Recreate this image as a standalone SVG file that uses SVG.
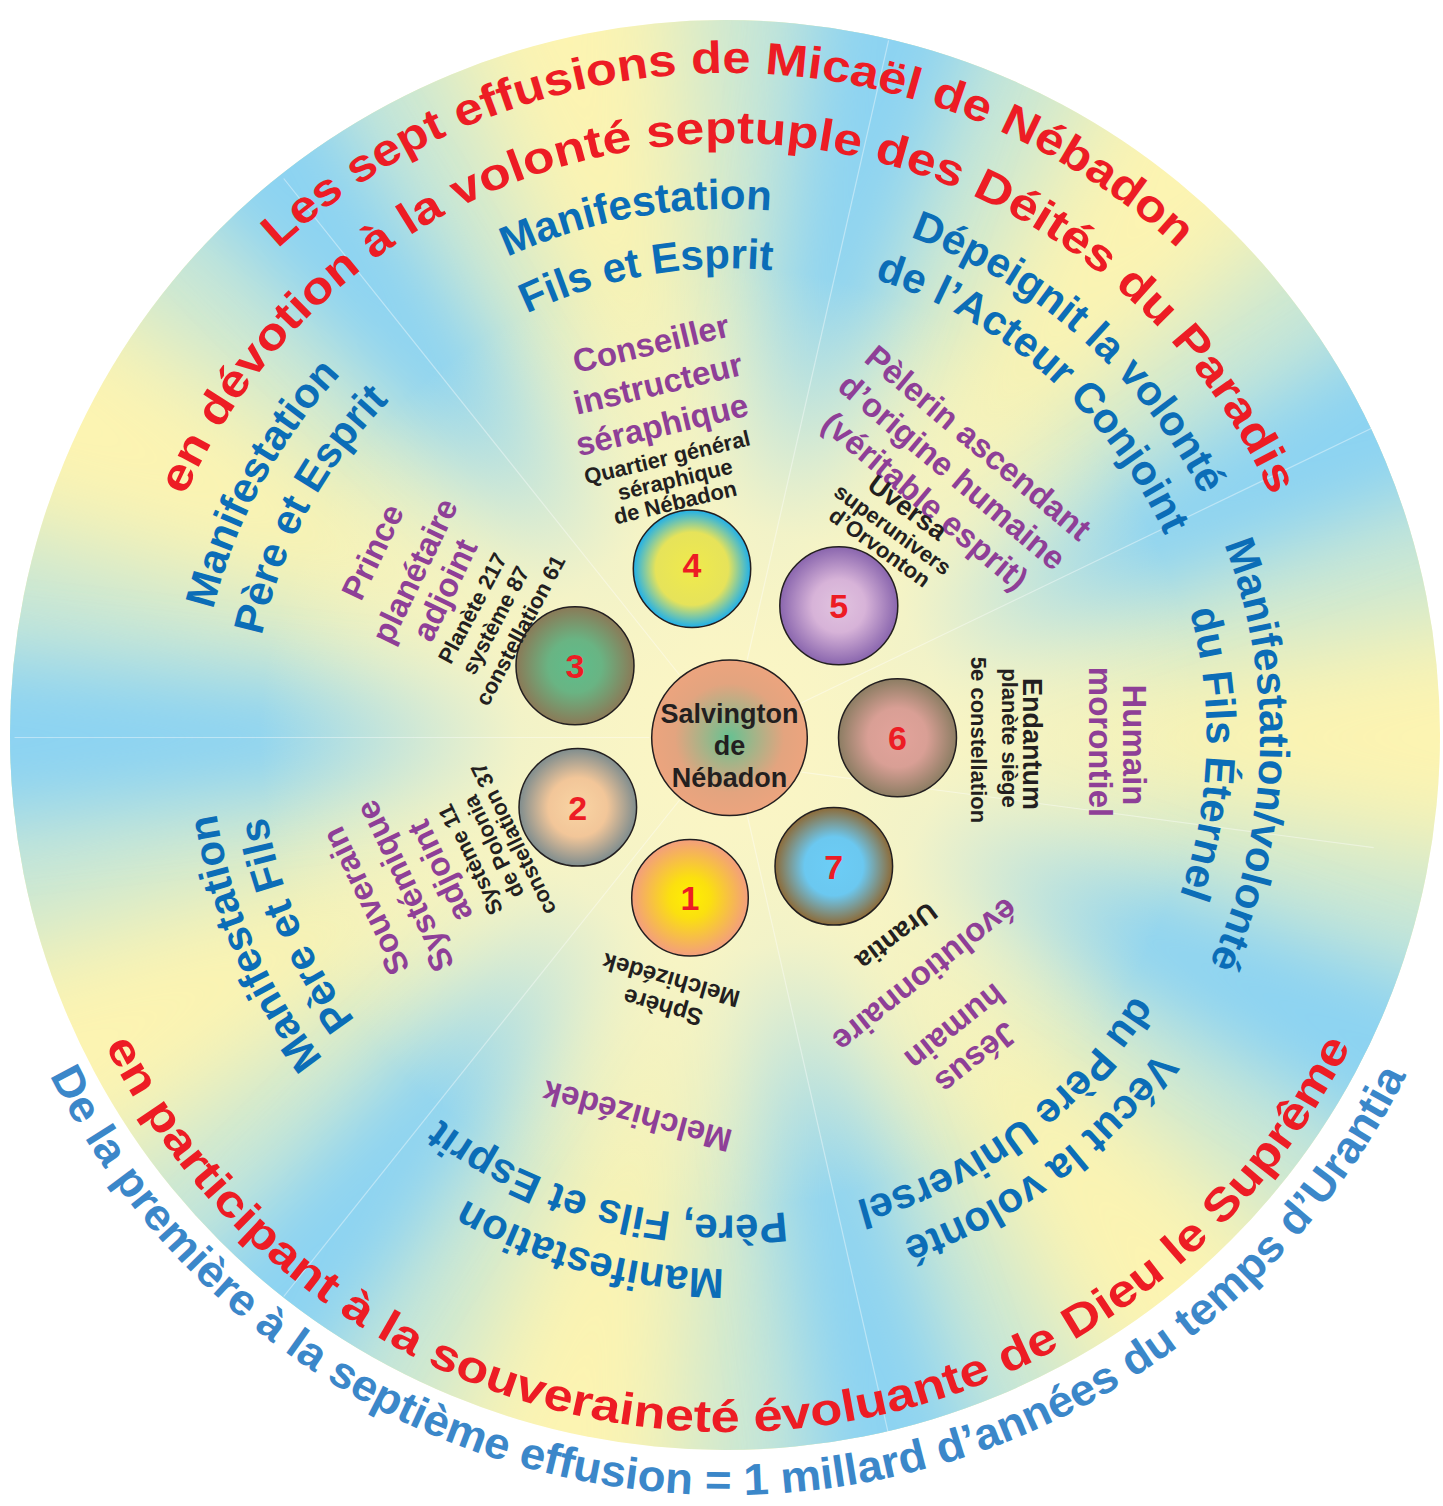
<svg xmlns="http://www.w3.org/2000/svg" width="1443" height="1506" viewBox="0 0 1443 1506">
<style>
text{font-family:"Liberation Sans",Arial,Helvetica,sans-serif;font-weight:bold;text-anchor:middle}
.r{font-size:45px;fill:#ed1c24}
.o{font-size:44px;fill:#3b87c9}
.b{font-size:42px;fill:#0b6db7}
.p{font-size:33px;fill:#8e3f97}
.k{font-size:22px;fill:#231f20}
.kb{font-size:27px;fill:#231f20}
.n{font-size:34px;fill:#ed1c24}
.s{font-size:27px;fill:#231f20}
.bowl{stroke:#231f20;stroke-width:1.5}
.sep{stroke:#ffffff;stroke-width:1.2;opacity:0.4;fill:none}
</style>
<defs>
<clipPath id="disk"><circle cx="725" cy="735" r="715"/></clipPath>
<filter id="blurA" filterUnits="userSpaceOnUse" x="-400" y="-400" width="2300" height="2300"><feGaussianBlur stdDeviation="55"/></filter>
<filter id="blurB" filterUnits="userSpaceOnUse" x="-400" y="-400" width="2300" height="2300"><feGaussianBlur stdDeviation="35"/></filter>
<radialGradient id="cream"><stop offset="0" stop-color="#fdf6c4" stop-opacity="1"/><stop offset="0.45" stop-color="#fdf6c4" stop-opacity="0.85"/><stop offset="1" stop-color="#fdf6c4" stop-opacity="0"/></radialGradient>
<radialGradient id="g1"><stop offset="0" stop-color="#fff000"/><stop offset="0.35" stop-color="#fbe00f"/><stop offset="1" stop-color="#f39e7d"/></radialGradient>
<radialGradient id="g2"><stop offset="0" stop-color="#f9d4a3"/><stop offset="0.5" stop-color="#f2c699"/><stop offset="1" stop-color="#7f8d8e"/></radialGradient>
<radialGradient id="g3"><stop offset="0" stop-color="#5dbe8c"/><stop offset="0.45" stop-color="#69b483"/><stop offset="1" stop-color="#8a7a57"/></radialGradient>
<radialGradient id="g4"><stop offset="0" stop-color="#f0ea4c"/><stop offset="0.62" stop-color="#e6e35a"/><stop offset="1" stop-color="#1fb0ea"/></radialGradient>
<radialGradient id="g5"><stop offset="0" stop-color="#e1c3df"/><stop offset="0.45" stop-color="#d7b3d8"/><stop offset="1" stop-color="#8a66ae"/></radialGradient>
<radialGradient id="g6"><stop offset="0" stop-color="#e3a39b"/><stop offset="0.5" stop-color="#d99f95"/><stop offset="1" stop-color="#8c7d63"/></radialGradient>
<radialGradient id="g7"><stop offset="0" stop-color="#6ccdf6"/><stop offset="0.5" stop-color="#6bc8f0"/><stop offset="1" stop-color="#8d6b38"/></radialGradient>
<radialGradient id="gs"><stop offset="0" stop-color="#66c192"/><stop offset="0.3" stop-color="#9fb589"/><stop offset="0.7" stop-color="#e3a47f"/><stop offset="1" stop-color="#eca47e"/></radialGradient>
<path id="topA" d="M 64 737 A 664 664 0 0 1 1392 737"/>
<path id="topB" d="M 134 737 A 594 594 0 0 1 1322 737"/>
<path id="botA" d="M 33 737 A 695 695 0 0 0 1423 737"/>
<path id="botB" d="M -30 737 A 758 758 0 0 0 1486 737"/>
<path id="p4a" d="M 204.1 829.4 A 532 532 0 0 1 1251.9 644.6"/>
<path id="p4b" d="M 262.2 819.1 A 473 473 0 0 1 1193.8 654.9"/>
<path id="p5a" d="M 329.5 384.5 A 532 532 0 0 1 1126.5 1089.5"/>
<path id="p5b" d="M 367.7 418.3 A 481 481 0 0 1 1088.3 1055.7"/>
<path id="p6a" d="M 746.6 205.3 A 532 532 0 0 1 709.4 1268.7"/>
<path id="p6b" d="M 744.8 256.3 A 481 481 0 0 1 711.2 1217.7"/>
<path id="p7a" d="M 1155.7 420.6 A 532 532 0 0 1 300.3 1053.4"/>
<path id="p7b" d="M 1114.7 450.9 A 481 481 0 0 1 341.3 1023.1"/>
<path id="p1a" d="M 1241.9 874.7 A 532 532 0 0 1 214.1 599.3"/>
<path id="p1b" d="M 1192.6 861.5 A 481 481 0 0 1 263.4 612.5"/>
<path id="p2a" d="M 936.1 1215.7 A 522 522 0 0 1 519.9 258.3"/>
<path id="p2b" d="M 914.6 1166.2 A 468 468 0 0 1 541.4 307.8"/>
<path id="p3a" d="M 474.1 1204.5 A 532 532 0 0 1 981.9 269.5"/>
<path id="p3b" d="M 498.5 1159.7 A 481 481 0 0 1 957.5 314.3"/>
</defs>

<g id="background" clip-path="url(#disk)">
<rect x="0" y="0" width="1443" height="1506" fill="#fdf4b1"/>
<g filter="url(#blurA)" fill="#c3e5d9">
<polygon points="729.5,737.5 -231.8,461.9 -231.8,1013.1"/>
<polygon points="729.5,737.5 345.7,-185.9 -85.4,157.8"/>
<polygon points="729.5,737.5 1212.2,-138.3 674.7,-261"/>
<polygon points="729.5,737.5 1715.2,568.8 1475.7,72.3"/>
<polygon points="729.5,737.5 1715.2,906.2 1475.7,1402.7"/>
<polygon points="729.5,737.5 1212.2,1613.3 674.7,1736"/>
<polygon points="729.5,737.5 345.7,1660.9 -85.4,1317.2"/>
</g>
<g filter="url(#blurB)" fill="#8cd3f2">
<polygon points="729.5,737.5 -265,633 -265,842"/>
<polygon points="729.5,737.5 191.1,-105.2 28,24.8"/>
<polygon points="729.5,737.5 1052.8,-208.8 849,-255.3"/>
<polygon points="729.5,737.5 1670.9,400.2 1580.2,211.9"/>
<polygon points="729.5,737.5 1670.9,1074.8 1580.2,1263.1"/>
<polygon points="729.5,737.5 1052.8,1683.8 849,1730.3"/>
<polygon points="729.5,737.5 191.1,1580.2 28,1450.2"/>
</g>
<circle cx="729.5" cy="737.5" r="470" fill="url(#cream)"/>
</g>

<g id="connectors">
<line class="sep" x1="649.5" y1="737.5" x2="14.5" y2="737.5"/>
<line class="sep" x1="679.6" y1="675" x2="283.7" y2="178.5"/>
<line class="sep" x1="747.3" y1="659.5" x2="888.6" y2="40.4"/>
<line class="sep" x1="801.6" y1="702.8" x2="1373.7" y2="427.3"/>
<line class="sep" x1="801.6" y1="772.2" x2="1373.7" y2="847.7"/>
<line class="sep" x1="747.3" y1="815.5" x2="888.6" y2="1434.6"/>
<line class="sep" x1="679.6" y1="800" x2="283.7" y2="1296.5"/>
</g>

<g id="titles">
<text class="r"><textPath href="#topA" startOffset="50%" textLength="989" lengthAdjust="spacingAndGlyphs">Les sept effusions de Micaël de Nébadon</textPath></text>
<text class="r"><textPath href="#topB" startOffset="50%" textLength="1370" lengthAdjust="spacingAndGlyphs">en dévotion à la volonté septuple des Déités du Paradis</textPath></text>
<text class="r"><textPath href="#botA" startOffset="50%" textLength="1544" lengthAdjust="spacingAndGlyphs">en participant à la souveraineté évoluante de Dieu le Suprême</textPath></text>
<text class="o"><textPath href="#botB" startOffset="50%" textLength="1680" lengthAdjust="spacingAndGlyphs">De la première à la septième effusion = 1 millard d’années du temps d’Urantia</textPath></text>
</g>

<g id="salvington">
<circle class="bowl" cx="729.5" cy="737.8" r="77.8" fill="url(#gs)"/>
<text class="s" x="729.5" y="723">Salvington</text>
<text class="s" x="729.5" y="755">de</text>
<text class="s" x="729.5" y="787">Nébadon</text>
</g>

<g id="bowl1">
<circle class="bowl" cx="690" cy="897.7" r="58.3" fill="url(#g1)"/>
<text class="n" x="690" y="910">1</text>
</g>
<g id="bowl2">
<circle class="bowl" cx="577.8" cy="807.3" r="58.8" fill="url(#g2)"/>
<text class="n" x="577.8" y="819.5">2</text>
</g>
<g id="bowl3">
<circle class="bowl" cx="575" cy="665.8" r="59" fill="url(#g3)"/>
<text class="n" x="575" y="678">3</text>
</g>
<g id="bowl4">
<circle class="bowl" cx="692" cy="568.7" r="58.7" fill="url(#g4)"/>
<text class="n" x="692" y="577">4</text>
</g>
<g id="bowl5">
<circle class="bowl" cx="838.8" cy="605.8" r="59" fill="url(#g5)"/>
<text class="n" x="838.8" y="618">5</text>
</g>
<g id="bowl6">
<circle class="bowl" cx="897.5" cy="737.8" r="59" fill="url(#g6)"/>
<text class="n" x="897.5" y="750">6</text>
</g>
<g id="bowl7">
<circle class="bowl" cx="833.8" cy="866.3" r="58.8" fill="url(#g7)"/>
<text class="n" x="833.8" y="878.5">7</text>
</g>

<g id="sector4">
<text class="b"><textPath href="#p4a" startOffset="50%">Manifestation</textPath></text>
<text class="b"><textPath href="#p4b" startOffset="50%">Fils et Esprit</textPath></text>
<text class="p" transform="translate(651 344) rotate(-13.5)" y="11">Conseiller</text>
<text class="p" transform="translate(658 384) rotate(-13.5)" y="11">instructeur</text>
<text class="p" transform="translate(662 425) rotate(-13.5)" y="11">séraphique</text>
<text class="k" transform="translate(667 457) rotate(-13.5)" y="8">Quartier général</text>
<text class="k" transform="translate(675 479) rotate(-13.5)" y="8">séraphique</text>
<text class="k" transform="translate(675 502) rotate(-13.5)" y="8">de Nébadon</text>
</g>

<g id="sector5">
<text class="b"><textPath href="#p5a" startOffset="50%">Dépeignit la volonté</textPath></text>
<text class="b"><textPath href="#p5b" startOffset="50%">de l’Acteur Conjoint</textPath></text>
<text class="p" transform="translate(978 443) rotate(40)" y="11">Pèlerin ascendant</text>
<text class="p" transform="translate(952 472) rotate(40)" y="11">d’origine humaine</text>
<text class="p" transform="translate(925 501) rotate(40)" y="11">(véritable esprit)</text>
<text class="kb" transform="translate(908 507) rotate(36)" y="10">Uversa</text>
<text class="k" transform="translate(893 529) rotate(36)" y="8">superunivers</text>
<text class="k" transform="translate(880 547) rotate(36)" y="8">d’Orvonton</text>
</g>

<g id="sector6">
<text class="b"><textPath href="#p6a" startOffset="50%">Manifestation/volonté</textPath></text>
<text class="b"><textPath href="#p6b" startOffset="50%">du Fils Éternel</textPath></text>
<text class="p" transform="translate(1134 745) rotate(90)" y="11">Humain</text>
<text class="p" transform="translate(1100 742) rotate(90)" y="11">morontiel</text>
<text class="kb" transform="translate(1033 744) rotate(90)" y="10">Endantum</text>
<text class="k" transform="translate(1010 738) rotate(90)" y="8">planète siège</text>
<text class="k" transform="translate(979 740) rotate(90)" y="8">5e constellation</text>
</g>

<g id="sector7">
<text class="b"><textPath href="#p7a" startOffset="50%">Vécut la volonté</textPath></text>
<text class="b"><textPath href="#p7b" startOffset="50%">du Père Universel</textPath></text>
<text class="p" transform="translate(976 1058) rotate(141.5)" y="11">Jésus</text>
<text class="p" transform="translate(955 1027) rotate(141.5)" y="11">humain</text>
<text class="p" transform="translate(925 975) rotate(141.5)" y="11">évolutionnaire</text>
<text class="kb" transform="translate(897 937) rotate(143)" y="10">Urantia</text>
</g>

<g id="sector1">
<text class="b"><textPath href="#p1a" startOffset="50%">Manifestation</textPath></text>
<text class="b"><textPath href="#p1b" startOffset="50%">Père, Fils et Esprit</textPath></text>
<text class="p" transform="translate(637 1116) rotate(195)" y="11">Melchizédek</text>
<text class="k" transform="translate(663 1007) rotate(196)" y="8" style="font-size:24px">Sphère</text>
<text class="k" transform="translate(671 980) rotate(196)" y="8" style="font-size:24px">Melchizédek</text>
</g>

<g id="sector2">
<text class="b"><textPath href="#p2a" startOffset="50%">Manifestation</textPath></text>
<text class="b"><textPath href="#p2b" startOffset="50%">Père et Fils</textPath></text>
<text class="p" transform="translate(366 901) rotate(-115.7)" y="11">Souverain</text>
<text class="p" transform="translate(405 886) rotate(-115.7)" y="11">Systémique</text>
<text class="p" transform="translate(440 871) rotate(-115.7)" y="11">adjoint</text>
<text class="k" transform="translate(470 860) rotate(-116)" y="8">Système 11</text>
<text class="k" transform="translate(493 847) rotate(-116)" y="8">de Polonia</text>
<text class="k" transform="translate(513 839) rotate(-116)" y="8">constellation 37</text>
</g>

<g id="sector3">
<text class="b"><textPath href="#p3a" startOffset="50%">Manifestation</textPath></text>
<text class="b"><textPath href="#p3b" startOffset="50%">Père et Esprit</textPath></text>
<text class="p" transform="translate(373 552) rotate(-64.3)" y="11">Prince</text>
<text class="p" transform="translate(415 571) rotate(-64.3)" y="11">planétaire</text>
<text class="p" transform="translate(445 590) rotate(-64.3)" y="11">adjoint</text>
<text class="k" transform="translate(472 608) rotate(-62)" y="8">Planète 217</text>
<text class="k" transform="translate(495 620) rotate(-62)" y="8">système 87</text>
<text class="k" transform="translate(520 630) rotate(-62)" y="8">constellation 61</text>
</g>
</svg>
